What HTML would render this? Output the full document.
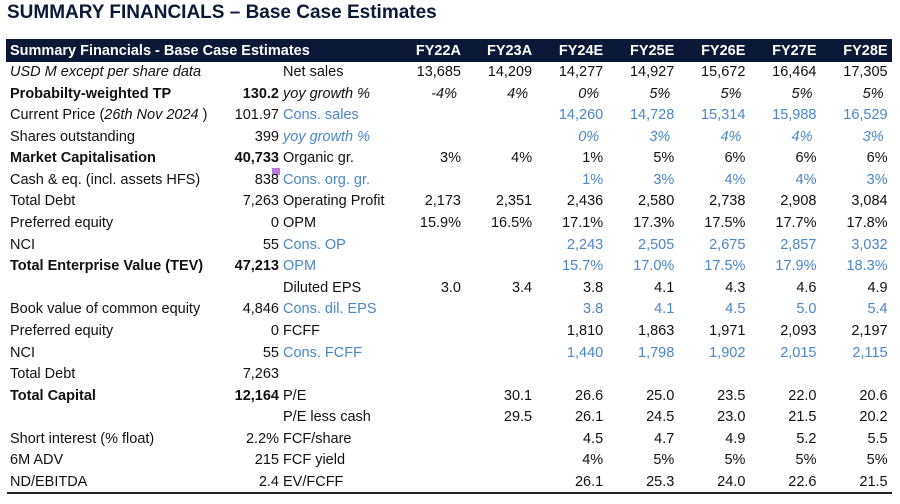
<!DOCTYPE html>
<html><head><meta charset="utf-8"><style>
body{margin:0;width:900px;height:504px;background:#fff;overflow:hidden;font-family:"Liberation Sans",sans-serif;position:relative;color:#111}
.t{position:absolute;white-space:nowrap;font-size:14.5px;line-height:18px}
.r{text-align:right}
.b{font-weight:bold}.i{font-style:italic}.bl{color:#4a86c8}
</style></head><body>
<div class="t b" style="left:7px;top:1px;font-size:19px;line-height:24px;color:#0b1a36">SUMMARY FINANCIALS – Base Case Estimates</div>
<div style="position:absolute;left:6px;top:39px;width:886px;height:23px;background:#0b1838"></div>
<div class="t b" style="left:10px;top:42px;color:#fff">Summary Financials - Base Case Estimates</div>
<div style="position:absolute;left:7px;top:492px;width:885px;height:2px;background:#222"></div>
<div style="position:absolute;left:272px;top:168px;width:8px;height:7px;background:#b47ad6"></div>
<div id="tbl"></div>
<script>
const years=["FY22A","FY23A","FY24E","FY25E","FY26E","FY27E","FY28E"];
const leftLabels=["USD M except per share data","Probabilty-weighted TP","Current Price (<i>26th Nov 2024</i> )","Shares outstanding","Market Capitalisation","Cash &amp; eq. (incl. assets HFS)","Total Debt","Preferred equity","NCI","Total Enterprise Value (TEV)","","Book value of common equity","Preferred equity","NCI","Total Debt","Total Capital","","Short interest (% float)","6M ADV","ND/EBITDA"];
const leftValues=["","130.2","101.97","399","40,733","838","7,263","0","55","47,213","","4,846","0","55","7,263","12,164","","2.2%","215","2.4"];
const leftStyle=["i","b","","","b","","","","","b","","","","","","b","","","",""];
const midLabels=["Net sales","yoy growth %","Cons. sales","yoy growth %","Organic gr.","Cons. org. gr.","Operating Profit","OPM","Cons. OP","OPM","Diluted EPS","Cons. dil. EPS","FCFF","Cons. FCFF","","P/E","P/E less cash","FCF/share","FCF yield","EV/FCFF"];
const midStyle=["","i","bl","i bl","","bl","","","bl","bl","","bl","","bl","","","","","",""];
const rowValues=[
["13,685","14,209","14,277","14,927","15,672","16,464","17,305"],
["-4%","4%","0%","5%","5%","5%","5%"],
["","","14,260","14,728","15,314","15,988","16,529"],
["","","0%","3%","4%","4%","3%"],
["3%","4%","1%","5%","6%","6%","6%"],
["","","1%","3%","4%","4%","3%"],
["2,173","2,351","2,436","2,580","2,738","2,908","3,084"],
["15.9%","16.5%","17.1%","17.3%","17.5%","17.7%","17.8%"],
["","","2,243","2,505","2,675","2,857","3,032"],
["","","15.7%","17.0%","17.5%","17.9%","18.3%"],
["3.0","3.4","3.8","4.1","4.3","4.6","4.9"],
["","","3.8","4.1","4.5","5.0","5.4"],
["","","1,810","1,863","1,971","2,093","2,197"],
["","","1,440","1,798","1,902","2,015","2,115"],
["","","","","","",""],
["","30.1","26.6","25.0","23.5","22.0","20.6"],
["","29.5","26.1","24.5","23.0","21.5","20.2"],
["","","4.5","4.7","4.9","5.2","5.5"],
["","","4%","5%","5%","5%","5%"],
["","","26.1","25.3","24.0","22.6","21.5"]];
const tbl=document.getElementById('tbl');
const colRight=c=>461+c*71.1;
const rowY=r=>63+r*21.58;
function mk(cls,html,style){const d=document.createElement('div');d.className='t '+cls;d.innerHTML=html;d.style.cssText=style;tbl.appendChild(d);return d;}
years.forEach((y,c)=>{
const el=mk('b r',y,`right:${900-colRight(c)}px;top:42px;color:#fff`);


});
leftLabels.forEach((l,r)=>{
const y=rowY(r);
const a=mk(leftStyle[r],l,`left:10px;top:${y}px`);


const b=mk('r '+(leftStyle[r]==='b'?'b':''),leftValues[r],`right:${900-279}px;top:${y}px`);


const m=mk(midStyle[r],midLabels[r],`left:283px;top:${y}px`);


rowValues[r].forEach((v,c)=>{
const it=midStyle[r].includes('i');
const cls='r '+(it?'i ':'')+(midStyle[r].includes('bl')?'bl':'');
const e=mk(cls,v,`right:${900-colRight(c)+(it?4:0)}px;top:${y}px`);


});
});
</script>
</body></html>
